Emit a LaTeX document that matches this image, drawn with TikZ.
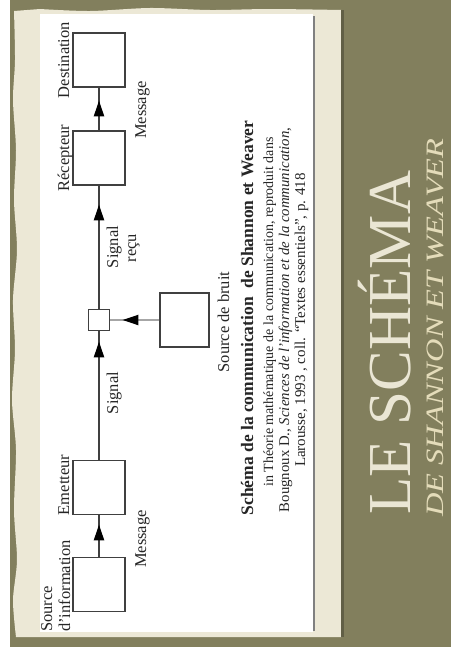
\documentclass[tikz,border=0pt]{standalone}
\usepackage{fontspec}
\setmainfont{Liberation Serif}
\usetikzlibrary{decorations.markings,arrows.meta}
\definecolor{slideolive}{RGB}{130,127,93}
\definecolor{paper}{RGB}{236,232,214}
\definecolor{titlecol}{RGB}{234,230,212}
\definecolor{subcol}{RGB}{228,220,186}
\tikzset{
  box/.style={draw=black!75, line width=1.1pt, fill=white, inner sep=0pt, minimum width=52pt, minimum height=54pt},
  junction/.style={draw=black!75, line width=1.1pt, fill=white, inner sep=0pt, minimum size=21pt},
  noisebox/.style={draw=black!75, line width=1.1pt, fill=white, inner sep=0pt, minimum width=49pt, minimum height=54pt},
  lbl/.style={rotate=90, inner sep=0pt, text=black!85, font=\fontsize{16.5}{18}\selectfont},
  captxt/.style={rotate=90, inner sep=0pt, text=black!85, anchor=base},
  conn/.style={draw=black!75, line width=2.4pt},
  noiseconn/.style={draw=black!35, line width=2.2pt},
  tipat/.style={postaction={decorate}, decoration={markings, mark=at position #1 with {\arrow[black]{Triangle[length=16pt,width=10pt]}}}}
}
\begin{document}
\begin{tikzpicture}[x=1pt,y=-1pt]
\useasboundingbox (0,0) rectangle (451,653);
\fill[white] (0,0) rectangle (451,653);
\fill[slideolive] (10,0) rectangle (451,647);
% torn paper
\fill[paper] plot[smooth] coordinates {(16,637) (13,600) (17,560) (14,510) (16,450) (12,400) (15,350) (13,300) (17,250) (14,200) (16,150) (13,100) (15,60) (14,11)}
  -- plot[smooth] coordinates {(40,9) (90,11) (150,8) (210,10) (270,9) (341,10)} -- (341,637) -- cycle;
\fill[slideolive!75!black] (341,10) rectangle (344,637);
\fill[white] (40,14) rectangle (313,632);
\draw[black!50, line width=2pt] (314,16) -- (314,631);

% boxes
\node[box] (dest) at (99,60) {};
\node[box] (recep) at (99,158) {};
\node[box] (emet) at (99,487.5) {};
\node[box] (src) at (99,584.5) {};
\node[junction] (junc) at (99,320) {};
\node[noisebox] (noise) at (184.5,320) {};

% connectors
\draw[conn, tipat=32.5pt] (src.north) -- (emet.south);
\draw[conn, tipat=118.5pt] (emet.north) -- (junc.south);
\draw[conn, tipat=104.5pt] (junc.north) -- (recep.south);
\draw[conn, tipat=30pt] (recep.north) -- (dest.south);
\draw[noiseconn, tipat=37pt] (noise.west) -- (junc.east);

% labels
\node[lbl, anchor=base] (ldest) at (69,60) {Destination};
\node[lbl, anchor=base] (lrecep) at (69,158) {Récepteur};
\node[lbl, anchor=base] (lemet) at (69,485) {Emetteur};
\node[lbl, anchor=base west] (lsrcA) at (52,632) {Source};
\node[lbl, anchor=base west] (lsrcB) at (70,632) {d'information};
\node[lbl, anchor=base] (lmsgA) at (146,110) {Message};
\node[lbl, anchor=base] (lmsgB) at (146,539) {Message};
\node[lbl, anchor=base] (lsigA) at (118,247) {Signal};
\node[lbl, anchor=base] (lrecu) at (136,248) {reçu};
\node[lbl, anchor=base] (lsigB) at (118,393) {Signal};
\node[lbl, anchor=base] (lnoise) at (229,322) {Source de bruit};

% caption
\node[captxt, font=\bfseries\fontsize{17.5}{18}\selectfont] (capA) at (253,318) {Schéma de la communication\ \ de Shannon et Weaver};
\node[captxt, font=\fontsize{14}{16}\selectfont] (capB) at (273,312) {in Théorie mathématique de la communication, reproduit dans};
\node[captxt, font=\fontsize{14.8}{16}\selectfont] (capC) at (289,320) {Bougnoux D., \textit{Sciences de l'information et de la communication},};
\node[captxt, font=\fontsize{15}{16}\selectfont] (capD) at (305,320) {Larousse, 1993 , coll. ``Textes essentiels'', p. 418};

% title
\node[rotate=90, anchor=base west, inner sep=0pt, text=titlecol, font=\fontsize{61}{61}\selectfont] (title) at (410,515) {LE SCHÉMA};
\node[rotate=90, anchor=base west, inner sep=0pt, text=subcol, font=\itshape\fontsize{25}{25}\selectfont] (subtitle) at (443,517) {\scalebox{1.3}[1]{DE SHANNON ET WEAVER}};
\end{tikzpicture}
\end{document}
